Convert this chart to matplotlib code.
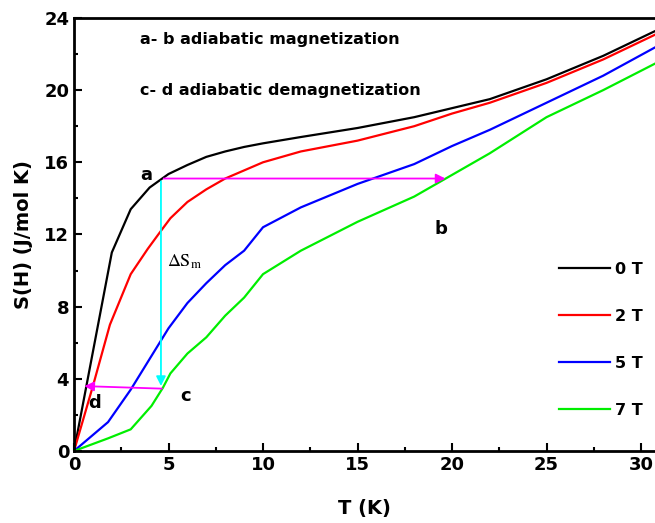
import matplotlib.pyplot as plt

# Entropy S(H) vs temperature for several fields
t_0T = [0, 2.0, 3.0, 4.0, 4.6, 5.0, 6.0, 7.0, 8.0, 9.0, 10, 12, 15, 18, 20, 22, 25, 28, 30.8]
s_0T = [0, 11.0, 13.4, 14.6, 15.05, 15.35, 15.85, 16.3, 16.6, 16.85, 17.05, 17.4, 17.9, 18.5, 19.0, 19.5, 20.6, 21.9, 23.3]

t_2T = [0, 1.0, 1.9, 3.0, 3.9, 4.6, 5.1, 6.0, 7.0, 8.0, 10, 12, 15, 18, 20, 22, 25, 28, 30.8]
s_2T = [0, 3.6, 7.0, 9.8, 11.2, 12.2, 12.9, 13.8, 14.5, 15.1, 16.0, 16.6, 17.2, 18.0, 18.7, 19.3, 20.4, 21.7, 23.1]

t_5T = [0, 1.8, 3.0, 4.0, 5.0, 6.0, 7.0, 8.0, 9.0, 10, 12, 15, 18, 20, 22, 25, 28, 30.8]
s_5T = [0, 1.6, 3.4, 5.1, 6.8, 8.2, 9.3, 10.3, 11.1, 12.4, 13.5, 14.8, 15.9, 16.9, 17.8, 19.3, 20.8, 22.4]

t_7T = [0, 1.8, 3.0, 4.1, 4.7, 5.1, 6.0, 7.0, 8.0, 9.0, 10, 12, 15, 18, 20, 22, 25, 28, 30.8]
s_7T = [0, 0.7, 1.2, 2.5, 3.5, 4.3, 5.4, 6.3, 7.5, 8.5, 9.8, 11.1, 12.7, 14.1, 15.3, 16.5, 18.5, 20.0, 21.5]

# cycle points
a_pt = (4.6, 15.1)
b_T = 19.8
c_pt = (4.8, 3.45)
d_pt = (0.4, 3.6)

fig = plt.figure(figsize=(6.55, 5.23), dpi=100)
ax = fig.add_axes([0.113, 0.1377, 0.887, 0.828])

ax.plot(t_0T, s_0T, color='black', lw=1.6, label='0 T')
ax.plot(t_2T, s_2T, color='#ff0000', lw=1.6, label='2 T')
ax.plot(t_5T, s_5T, color='#0000ff', lw=1.6, label='5 T')
ax.plot(t_7T, s_7T, color='#00ee00', lw=1.6, label='7 T')

# arrows
ax.annotate('', xy=(b_T, a_pt[1]), xytext=a_pt,
            arrowprops=dict(arrowstyle='-|>', color='magenta', lw=1.3, mutation_scale=14))
ax.annotate('', xy=(a_pt[0], c_pt[1]), xytext=a_pt,
            arrowprops=dict(arrowstyle='-|>', color='cyan', lw=1.3, mutation_scale=14))
ax.annotate('', xy=d_pt, xytext=c_pt,
            arrowprops=dict(arrowstyle='-|>', color='magenta', lw=1.3, mutation_scale=14))

ax.text(3.8, 15.3, 'a', fontsize=13, fontweight='bold', ha='center', va='center')
ax.text(19.4, 12.3, 'b', fontsize=13, fontweight='bold', ha='center', va='center')
ax.text(5.9, 3.05, 'c', fontsize=13, fontweight='bold', ha='center', va='center')
ax.text(1.1, 2.65, 'd', fontsize=13, fontweight='bold', ha='center', va='center')
ax.text(4.9, 10.5, r'$\Delta\mathrm{S}_\mathrm{m}$', fontsize=13, ha='left', va='center',
        math_fontfamily='stix')

ax.text(3.5, 22.8, 'a- b adiabatic magnetization', fontsize=11.5, fontweight='bold', va='center')
ax.text(3.5, 20.0, 'c- d adiabatic demagnetization', fontsize=11.5, fontweight='bold', va='center')

ax.set_xlim(0, 30.74)
ax.set_ylim(0, 24)
ax.set_xticks([0, 5, 10, 15, 20, 25, 30])
ax.set_xticks([2.5, 7.5, 12.5, 17.5, 22.5, 27.5], minor=True)
ax.set_yticks([0, 4, 8, 12, 16, 20, 24])
ax.set_yticks([2, 6, 10, 14, 18, 22], minor=True)
ax.tick_params(which='both', direction='in', width=1.5)
ax.tick_params(which='major', length=6, labelsize=13)
ax.tick_params(which='minor', length=3)
for lab in ax.get_xticklabels() + ax.get_yticklabels():
    lab.set_fontweight('bold')

for side in ['left', 'bottom', 'top']:
    ax.spines[side].set_linewidth(2)
ax.spines['right'].set_visible(False)

ax.set_xlabel('T (K)', fontsize=14, fontweight='bold', labelpad=18)
ax.set_ylabel('S(H) (J/mol K)', fontsize=14, fontweight='bold', labelpad=8)

leg = ax.legend(loc='upper left', bbox_to_anchor=(0.81, 0.47), frameon=False,
                fontsize=11.5, handlelength=3.2, labelspacing=2.0, handletextpad=0.3)
for t in leg.get_texts():
    t.set_fontweight('bold')

fig.savefig('out.png', dpi=100)
